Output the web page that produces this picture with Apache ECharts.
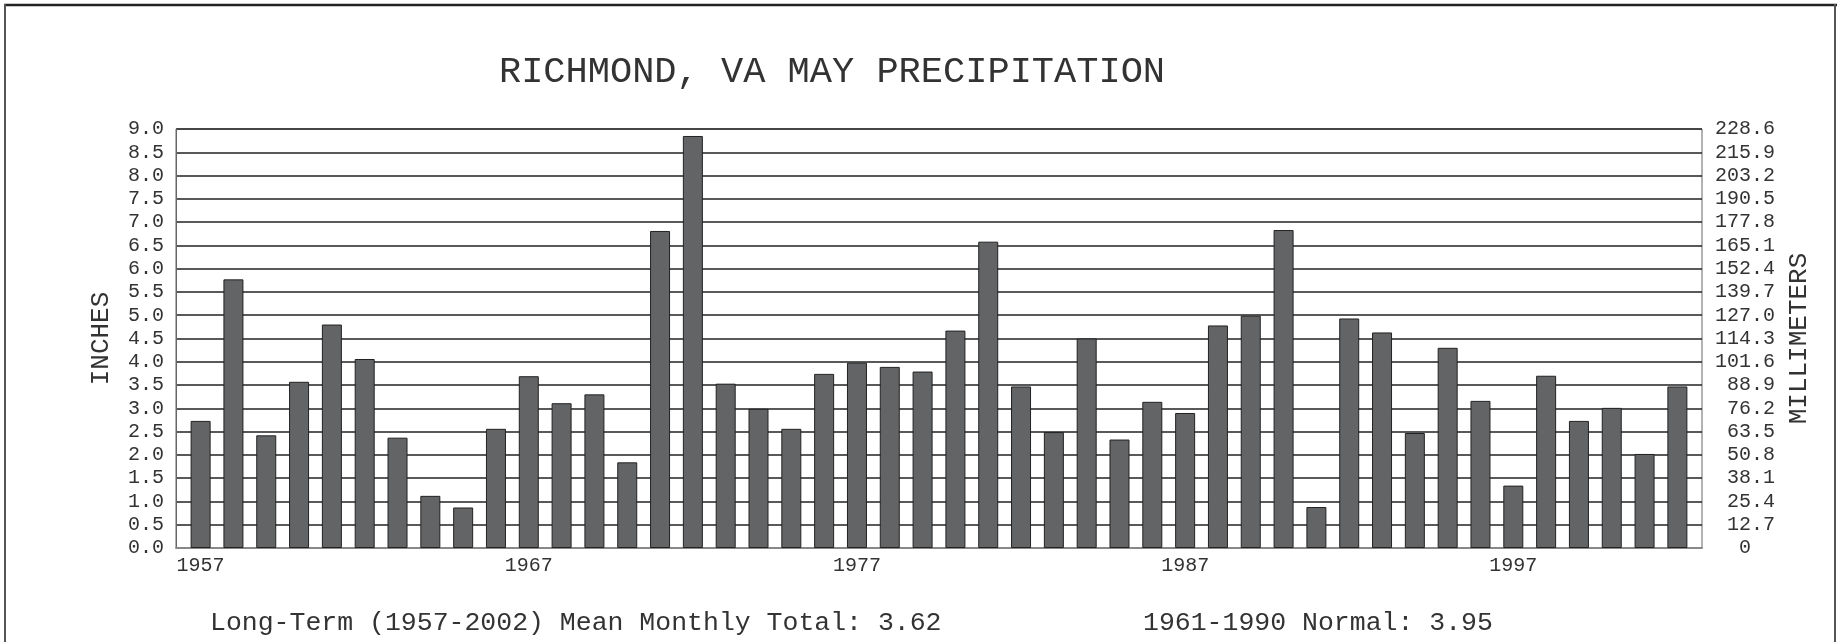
<!DOCTYPE html>
<html>
<head>
    <meta charset="utf-8">
    <title>Richmond May Precipitation</title>
    <script src="https://cdn.jsdelivr.net/npm/echarts@6/dist/echarts.min.js"></script>
    <style>
        html, body { margin: 0; padding: 0; background: #fff; }
    </style>
</head>
<body>
<div id="main" style="width: 1843px;height:642px;"></div>
<script type="text/javascript">
    // years 1957-2002, May totals in inches
    var years = [1957, 1958, 1959, 1960, 1961, 1962, 1963, 1964, 1965, 1966,
        1967, 1968, 1969, 1970, 1971, 1972, 1973, 1974, 1975, 1976,
        1977, 1978, 1979, 1980, 1981, 1982, 1983, 1984, 1985, 1986,
        1987, 1988, 1989, 1990, 1991, 1992, 1993, 1994, 1995, 1996,
        1997, 1998, 1999, 2000, 2001, 2002];
    var inches = [2.73, 5.77, 2.42, 3.57, 4.80, 4.06, 2.37, 1.12, 0.87, 2.56,
        3.69, 3.11, 3.30, 1.84, 6.81, 8.85, 3.53, 2.99, 2.56, 3.74,
        3.98, 3.89, 3.79, 4.67, 6.58, 3.47, 2.49, 4.50, 2.33, 3.14,
        2.90, 4.78, 4.99, 6.83, 0.88, 4.93, 4.63, 2.47, 4.30, 3.16,
        1.34, 3.70, 2.73, 3.01, 2.02, 3.47];
    var yearLabels = [1957, 1967, 1977, 1987, 1997];

    var titleText = 'RICHMOND, VA MAY PRECIPITATION';
    var meanText = 'Long-Term (1957-2002) Mean Monthly Total: 3.62';
    var normalText = '1961-1990 Normal: 3.95';

    var font = '"Liberation Mono", "Courier New", monospace';
    var txt = '#333';

    var barData = [];
    for (var i = 0; i < years.length; i++) {
        barData.push([years[i], inches[i]]);
    }

    var myChart = echarts.init(document.getElementById('main'));
    var option = {
        backgroundColor: '#fff',
        animation: false,
        grid: {
            left: 176, right: 141, top: 129, bottom: 94,
            show: true,
            borderColor: '#666',
            borderWidth: 1
        },
        xAxis: {
            type: 'value',
            min: 1956.25,
            max: 2002.75,
            axisLine: {show: true, lineStyle: {color: '#888', width: 2}},
            axisTick: {show: false},
            splitLine: {show: false},
            axisLabel: {
                customValues: yearLabels,
                color: txt, fontFamily: font, fontSize: 20, margin: 8,
                formatter: function (v) { return String(v); }
            }
        },
        yAxis: [
            {
                type: 'value',
                min: 0, max: 9, interval: 0.5,
                name: 'INCHES',
                nameLocation: 'middle',
                nameGap: 62,
                nameTextStyle: {color: txt, fontFamily: font, fontSize: 26},
                axisLine: {show: true, lineStyle: {color: '#666'}},
                axisTick: {show: false},
                splitLine: {show: true, lineStyle: {color: '#222', width: 1.5}},
                axisLabel: {
                    color: txt, fontFamily: font, fontSize: 20, margin: 12,
                    formatter: function (v) { return v.toFixed(1); }
                }
            },
            {
                type: 'value',
                min: 0, max: 228.6, interval: 12.7,
                position: 'right',
                name: 'MILLIMETERS',
                nameLocation: 'middle',
                nameGap: 84,
                nameRotate: 90,
                nameTextStyle: {color: txt, fontFamily: font, fontSize: 26},
                axisLine: {show: false},
                axisTick: {show: false},
                splitLine: {show: false},
                axisLabel: {
                    color: txt, fontFamily: font, fontSize: 20, margin: 73,
                    align: 'right',
                    formatter: function (v) {
                        if (Math.abs(v) < 0.001) return '0  ';
                        return v.toFixed(1);
                    }
                }
            }
        ],
        series: [{
            type: 'bar',
            data: barData,
            barWidth: 20,
            itemStyle: {color: '#636466', borderColor: '#222', borderWidth: 1}
        }],
        graphic: [
            {type: 'line', shape: {x1: 4, y1: 5, x2: 1837, y2: 5}, style: {stroke: '#222', lineWidth: 2.5}},
            {type: 'line', shape: {x1: 5, y1: 4, x2: 5, y2: 642}, style: {stroke: '#555', lineWidth: 2}},
            {type: 'line', shape: {x1: 1835, y1: 4, x2: 1835, y2: 642}, style: {stroke: '#555', lineWidth: 2}},
            {type: 'text', x: 832, y: 72, style: {text: titleText, font: '37px ' + font, fill: txt, textAlign: 'center', textVerticalAlign: 'middle'}},
            {type: 'text', x: 210, y: 623, style: {text: meanText, font: '26.5px ' + font, fill: txt, textAlign: 'left', textVerticalAlign: 'middle'}},
            {type: 'text', x: 1143, y: 623, style: {text: normalText, font: '26.5px ' + font, fill: txt, textAlign: 'left', textVerticalAlign: 'middle'}}
        ]
    };
    myChart.setOption(option);
</script>
</body>
</html>
